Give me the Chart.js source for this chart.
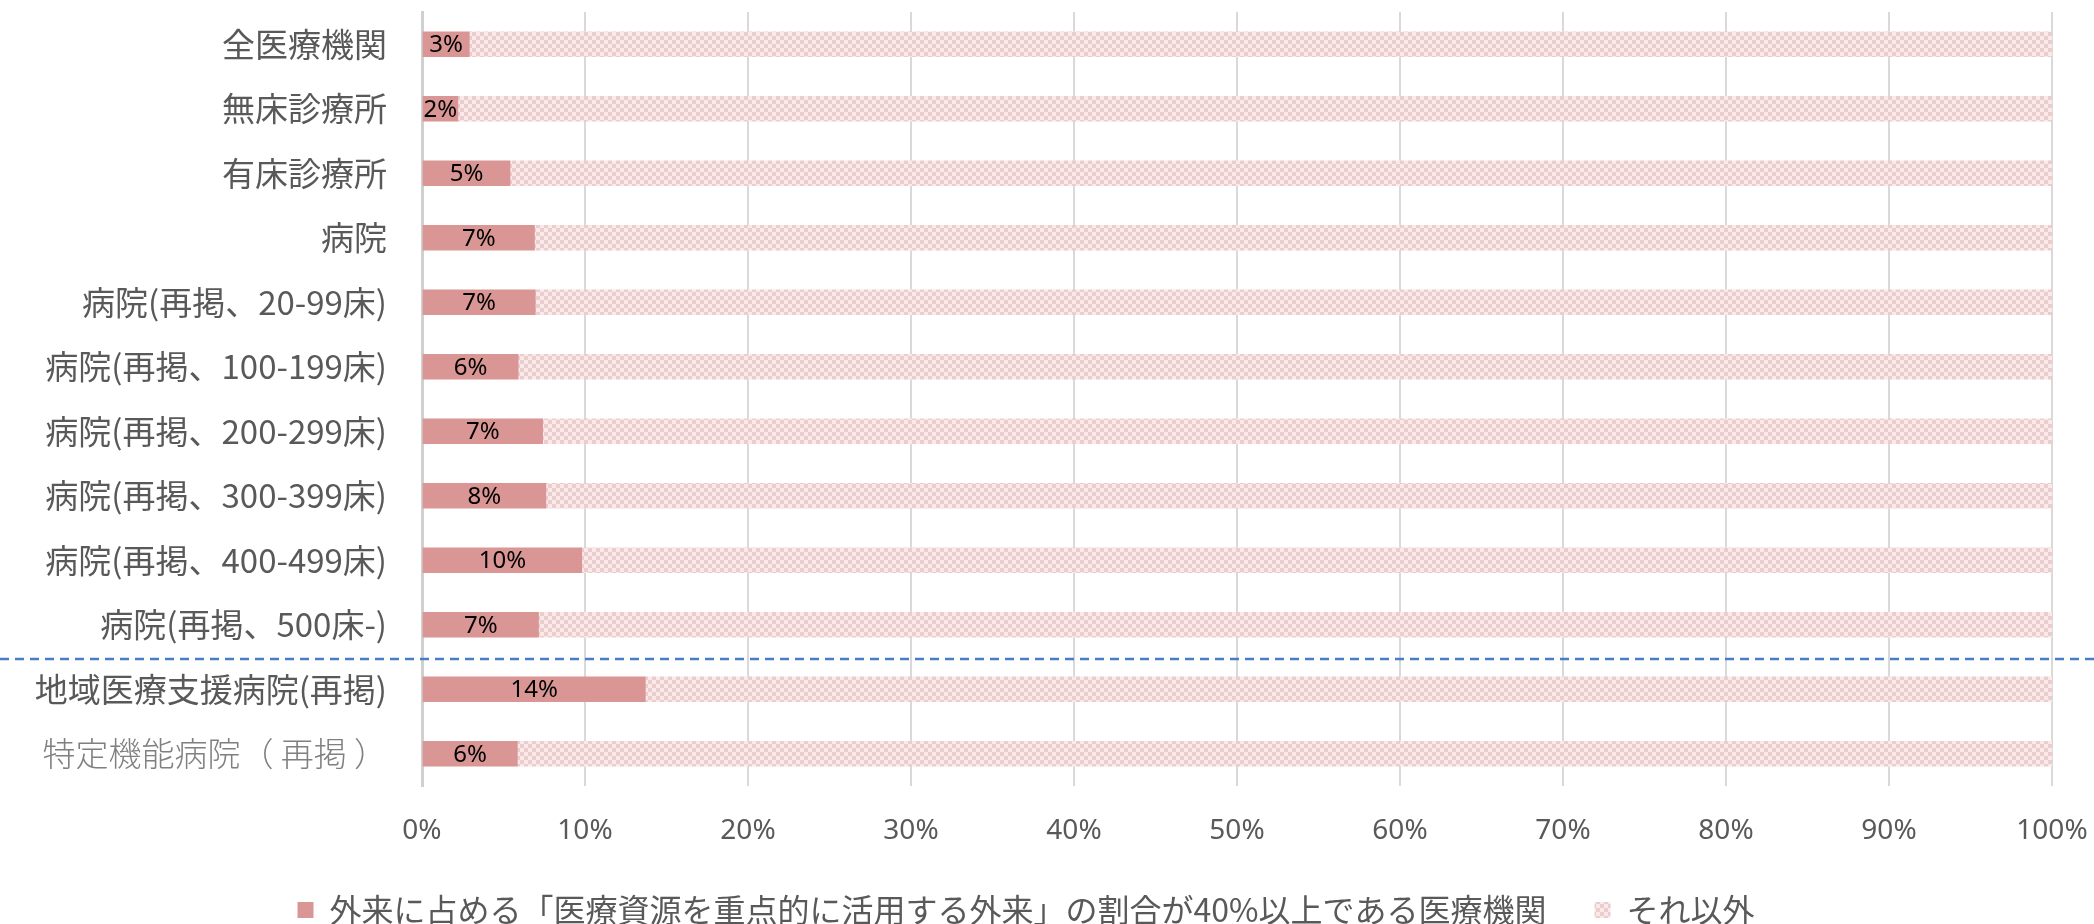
<!DOCTYPE html>
<html>
<head>
<meta charset="utf-8">
<script src="https://cdn.jsdelivr.net/npm/chart.js@4/dist/chart.umd.min.js"></script>
<style>
  html, body { margin: 0; padding: 0; background: #fff; overflow: hidden; }
  #wrap { width: 2094px; height: 924px; }
</style>
</head>
<body>
<div id="wrap"><canvas id="chart" width="2094" height="924"></canvas></div>
<script>
// categories (y axis, top to bottom)
const categories = [
  '全医療機関',
  '無床診療所',
  '有床診療所',
  '病院',
  '病院(再掲、20-99床)',
  '病院(再掲、100-199床)',
  '病院(再掲、200-299床)',
  '病院(再掲、300-399床)',
  '病院(再掲、400-499床)',
  '病院(再掲、500床-)',
  '地域医療支援病院(再掲)',
  '特定機能病院（ 再掲 ）'
];

// % of institutions where 重点外来 share is >= 40%
const shareOver40 = [2.9, 2.2, 5.4, 6.9, 6.95, 5.9, 7.4, 7.6, 9.8, 7.15, 13.7, 5.85];
// the rest
const shareOthers = [97.1, 97.8, 94.6, 93.1, 93.05, 94.1, 92.6, 92.4, 90.2, 92.85, 86.3, 94.15];

const xTickLabels = ['0%', '10%', '20%', '30%', '40%', '50%', '60%', '70%', '80%', '90%', '100%'];

const seriesNames = [
  '外来に占める「医療資源を重点的に活用する外来」の割合が40%以上である医療機関',
  'それ以外'
];

// little checker tile for "それ以外"
function makeChecker() {
  const c = document.createElement('canvas');
  c.width = 8; c.height = 8;
  const g = c.getContext('2d');
  g.fillStyle = '#fbe8e8';
  g.fillRect(0, 0, 8, 8);
  g.fillStyle = '#eacdcd';
  g.fillRect(0, 0, 4, 4);
  g.fillRect(4, 4, 4, 4);
  return g.createPattern(c, 'repeat');
}

const jpFont = '"Noto Sans CJK JP", "Noto Sans", sans-serif';

// value labels in the middle of the red bars
const barLabels = {
  id: 'barLabels',
  afterDatasetsDraw(chart) {
    const ctx = chart.ctx;
    const meta = chart.getDatasetMeta(0);
    ctx.save();
    ctx.font = '24px "Noto Sans", sans-serif';
    ctx.fillStyle = '#000';
    ctx.textAlign = 'center';
    ctx.textBaseline = 'middle';
    meta.data.forEach((bar, i) => {
      const p = bar.getProps(['x', 'y', 'base'], true);
      ctx.fillText(Math.round(shareOver40[i]) + '%', (p.x + p.base) / 2, p.y + 1);
    });
    ctx.restore();
  }
};

// dashed separator between 500床- and 地域医療支援病院
const divider = {
  id: 'divider',
  afterDraw(chart) {
    const ctx = chart.ctx;
    const y = chart.scales.y;
    const py = (y.getPixelForValue(9) + y.getPixelForValue(10)) / 2 + 2;
    ctx.save();
    ctx.strokeStyle = '#4a7ec4';
    ctx.lineWidth = 2.5;
    ctx.setLineDash([9, 6]);
    ctx.beginPath();
    ctx.moveTo(0, py);
    ctx.lineTo(chart.width, py);
    ctx.stroke();
    ctx.restore();
  }
};

new Chart(document.getElementById('chart'), {
  type: 'bar',
  data: {
    labels: categories,
    datasets: [
      { label: seriesNames[0], data: shareOver40, backgroundColor: '#d99694', borderWidth: 0, barThickness: 25 },
      { label: seriesNames[1], data: shareOthers, backgroundColor: makeChecker(), borderWidth: 0, barThickness: 25 }
    ]
  },
  options: {
    indexAxis: 'y',
    responsive: false,
    animation: false,
    layout: { padding: { top: 12, right: 42, left: 0, bottom: -12 } },
    scales: {
      x: {
        stacked: true,
        min: 0,
        max: 100,
        ticks: {
          stepSize: 10,
          padding: 31,
          color: '#595959',
          font: { family: '"Noto Sans", sans-serif', size: 28, lineHeight: 1 },
          callback: (v, i) => xTickLabels[i]
        },
        grid: { color: '#d9d9d9', lineWidth: 2, drawTicks: false },
        border: { display: false },
        afterFit: (s) => { s.height = 60; s.paddingLeft = 0; s.paddingRight = 0; }
      },
      y: {
        stacked: true,
        ticks: {
          padding: 35,
          color: (c) => c.index === 11 ? '#808080' : '#595959',
          font: (c) => ({ family: jpFont, size: 33, weight: c.index === 11 ? 300 : 400 })
        },
        grid: { display: false, drawTicks: false },
        border: { color: '#d0d0d0', width: 3 },
        afterFit: (s) => { s.width = 422; s.paddingTop = 0; s.paddingBottom = 0; }
      }
    },
    plugins: {
      legend: {
        position: 'bottom',
        labels: {
          boxWidth: 16,
          boxHeight: 16,
          padding: 48,
          color: '#595959',
          font: { family: jpFont, size: 32 }
        }
      },
      tooltip: { enabled: false }
    }
  },
  plugins: [barLabels, divider]
});
</script>
</body>
</html>
